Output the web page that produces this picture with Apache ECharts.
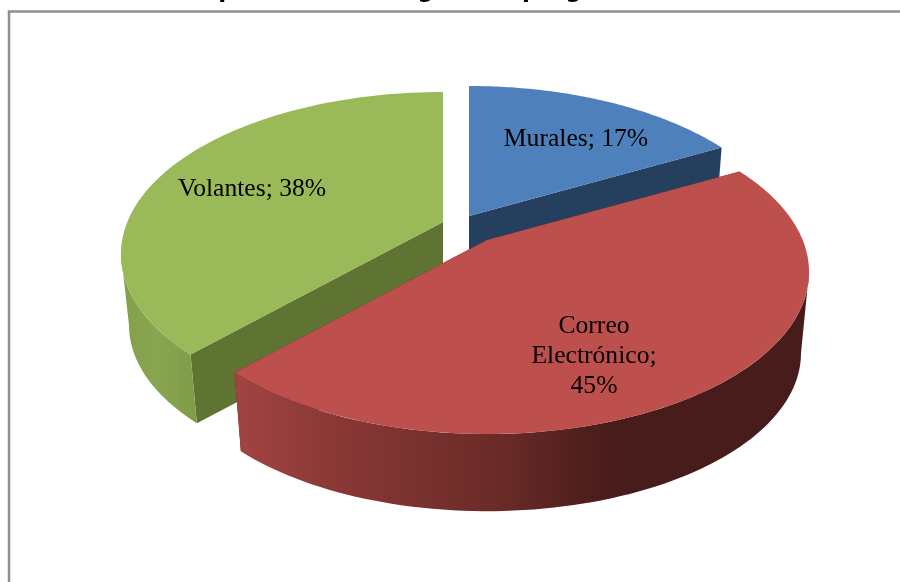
<!DOCTYPE html>
<html>
  <head>
    <meta charset="utf-8" />
    <script src="https://cdn.jsdelivr.net/npm/echarts@6/dist/echarts.min.js"></script>
    <style>
      #main, html, body { width: 100%; height: 100%; margin: 0; overflow: hidden; background: #fff; }
    </style>
  </head>
  <body>
    <div id="main"></div>
    <script type="text/javascript">
      // data
      var categories = ['Murales', 'Correo\nElectrónico', 'Volantes'];
      var percents = [17, 45, 38];
      var titleText = 'Impacto de la imagen del programa';

      // pie look: top plane is a circle seen in perspective
      var radiusX = 315.7, radiusY = 155.7, persp = 0.1975;
      var lowerScale = 0.975;
      var depths = [80, 82, 72];
      var origins = [[469, 216], [487, 240], [443, 222]];
      var topColors = ['#4e80bc', '#bd4f4c', '#9aba59'];
      var faceColors = ['#253f5f', '#4a1d1b', '#5f7433'];
      var wallFills = [
        '#253f5f',
        { type: 'linear', x: 235, y: 0, x2: 610, y2: 0, global: true, colorStops: [
          { offset: 0, color: '#a24442' }, { offset: 0.3, color: '#873734' },
          { offset: 0.7, color: '#6a2b28' }, { offset: 1, color: '#481c1a' }
        ] },
        { type: 'linear', x: 122, y: 0, x2: 200, y2: 0, global: true, colorStops: [
          { offset: 0, color: '#84a04b' }, { offset: 0.45, color: '#8aa551' }, { offset: 1, color: '#7d9c48' }
        ] }
      ];
      var drawOrder = [1, 3, 2];
      var labelAt = [[576, 139], [594, 356], [252, 189]];
      var labelSep = ['; ', ';\n', '; '];

      // angles (clockwise from the back) where the outer wall can be seen
      var wallFrom = Math.acos(-persp) * 180 / Math.PI, wallTo = 360 - wallFrom;

      function point(origin, deg, lift) {
        var t = deg * Math.PI / 180, u = Math.sin(t), v = Math.cos(t), w = 1 + persp * v;
        var s = lift ? lowerScale : 1;
        return [origin[0] + s * radiusX * u / w, origin[1] - s * radiusY * v / w + lift];
      }

      function arc(origin, from, to, lift) {
        var pts = [];
        for (var i = 0; i <= 80; i++) pts.push(point(origin, from + (to - from) * i / 80, lift));
        return pts;
      }

      function poly(points, fill, z2) {
        return { type: 'polygon', shape: { points: points }, style: { fill: fill }, z2: z2 };
      }

      var total = percents.reduce(function (a, b) { return a + b; }, 0);

      function renderItem(params, api) {
        var i = params.dataIndex, before = 0;
        for (var k = 0; k < i; k++) before += percents[k];
        var from = before / total * 360, to = from + api.value(1) / total * 360;
        var o = origins[i], z = drawOrder[i] * 10, d = depths[i];
        var low = [o[0], o[1] + d];
        var children = [
          poly([o, point(o, from, 0), point(o, from, d), low], faceColors[i], z),
          poly([o, point(o, to, 0), point(o, to, d), low], faceColors[i], z),
          poly([o].concat(arc(o, from, to, 0)), topColors[i], z + 2),
          {
            type: 'text', z2: 100,
            style: {
              x: labelAt[i][0], y: labelAt[i][1],
              text: categories[i] + labelSep[i] + api.value(1) + '%',
              align: 'center', verticalAlign: 'middle', lineHeight: 30,
              font: '25.6px "Liberation Serif"', fill: '#000'
            }
          }
        ];
        var a = Math.max(from, wallFrom), b = Math.min(to, wallTo);
        if (b > a) {
          children.push(poly(arc(o, a, b, 0).concat(arc(o, a, b, d).reverse()), wallFills[i], z + 1));
        }
        return { type: 'group', children: children };
      }

      var myChart = echarts.init(document.getElementById('main'), null, { renderer: 'canvas' });
      var option = {
        animation: false,
        title: {
          text: titleText, left: 412, top: -25, textAlign: 'center',
          textStyle: { fontFamily: 'DejaVu Sans', fontWeight: 'bold', fontSize: 23, color: '#000' }
        },
        graphic: [{
          type: 'rect', silent: true,
          shape: { x: 9, y: 11.5, width: 1000, height: 1000 },
          style: { fill: 'none', stroke: '#8f8f8f', lineWidth: 2.5 }
        }],
        series: [{
          type: 'custom',
          coordinateSystem: 'none',
          renderItem: renderItem,
          data: categories.map(function (c, i) { return [c, percents[i]]; })
        }]
      };
      myChart.setOption(option);
    </script>
  </body>
</html>
